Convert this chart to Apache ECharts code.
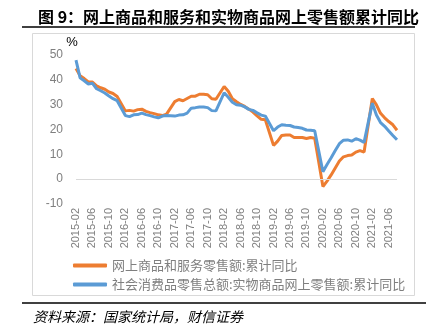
<!DOCTYPE html>
<html>
<head>
<meta charset="utf-8">
<script src="https://cdn.jsdelivr.net/npm/echarts@6/dist/echarts.min.js"></script>
<style>
html,body{margin:0;padding:0;background:#fff;}
#chart{width:441px;height:333px;}
</style>
</head>
<body>
<div id="chart"></div>
<script>
// Months from 2015-02 to 2021-08 (January not published: null)
var categories = [];
(function(){
  for (var y = 2015; y <= 2021; y++) {
    for (var m = 1; m <= 12; m++) {
      if (y === 2015 && m < 2) continue;
      if (y === 2021 && m > 8) break;
      categories.push(y + '-' + (m < 10 ? '0' + m : '' + m));
    }
  }
})();

var seriesNames = ['网上商品和服务零售额:累计同比', '社会消费品零售总额:实物商品网上零售额:累计同比'];

// 网上商品和服务零售额:累计同比 (%)
var onlineTotal = [
  44.6, 41.6, 40.5, 39.2, 39.1, 37.6, 36.8, 36.2, 35.1, 34.5, 33.3,
  null, 27.5, 27.7, 27.4, 28.0, 28.2, 27.3, 26.8, 26.4, 25.9, 25.6, 26.2,
  null, 31.2, 32.1, 31.6, 32.5, 33.4, 33.4, 34.2, 34.2, 34.0, 32.4, 32.2,
  null, 37.3, 35.4, 32.4, 31.2, 30.1, 29.3, 28.2, 27.0, 25.5, 24.1, 23.9,
  null, 13.6, 15.3, 17.6, 17.8, 17.8, 16.8, 16.8, 16.8, 16.4, 16.8, 16.5,
  null, -3.0, -0.8, 1.7, 4.5, 7.3, 9.0, 9.5, 9.7, 10.9, 11.5, 10.9,
  null, 32.5, 29.9, 26.5, 24.7, 23.2, 21.9, 19.7
];

// 社会消费品零售总额:实物商品网上零售额:累计同比 (%)
var onlineGoods = [
  47.9, 40.8, 39.6, 38.3, 38.6, 36.4, 35.6, 34.7, 33.5, 32.4, 31.6,
  null, 25.6, 25.2, 25.9, 26.0, 26.6, 26.0, 25.6, 25.1, 24.7, 25.4, 25.6,
  null, 25.4, 25.8, 25.9, 26.6, 28.6, 28.8, 29.1, 29.1, 28.8, 27.6, 27.5,
  null, 34.8, 33.0, 31.0, 30.0, 29.8, 29.1, 28.1, 27.7, 26.7, 25.8, 25.4,
  null, 19.5, 21.0, 21.9, 21.7, 21.6, 21.0, 20.8, 20.5, 19.8, 19.7, 19.5,
  null, 3.0, 5.9, 8.6, 11.5, 14.3, 15.7, 15.8, 15.3, 16.3, 15.7, 14.8,
  null, 30.6, 25.8, 22.8, 21.3, 19.4, 17.6, 15.9
];

var yTicks = {min: -10, max: 50, interval: 10};

var chart = echarts.init(document.getElementById('chart'), null, {renderer: 'canvas'});
var cjk = '"Noto Sans CJK SC", sans-serif';
var latin = '"Liberation Sans", Arial, sans-serif';

chart.setOption({
  animation: false,
  backgroundColor: '#ffffff',
  title: {
    text: '图 9：网上商品和服务和实物商品网上零售额累计同比',
    left: 33, top: 4,
    textStyle: {fontFamily: cjk, fontSize: 16, fontWeight: 'bold', color: '#000'}
  },
  graphic: [
    {type: 'line', shape: {x1: 22, y1: 27, x2: 415, y2: 27}, style: {stroke: '#000', lineWidth: 1.5}},
    {type: 'rect', shape: {x: 32.5, y: 33.5, width: 382, height: 262}, style: {fill: 'none', stroke: '#d9d9d9', lineWidth: 1}},
    {type: 'line', shape: {x1: 22, y1: 303, x2: 426, y2: 303}, style: {stroke: '#000', lineWidth: 1.5}},
    {type: 'text', left: 33, top: 310, style: {text: '资料来源：国家统计局，财信证券', font: 'italic 14px "Noto Sans CJK SC", sans-serif', fill: '#000'}}
  ],
  legend: {
    orient: 'vertical',
    left: 68, top: 254,
    itemWidth: 34, itemHeight: 4, itemGap: 6,
    icon: 'roundRect',
    textStyle: {fontFamily: cjk, fontSize: 13, color: '#7f7f7f'},
    data: seriesNames
  },
  grid: {left: 76, right: 44, top: 55, bottom: 129, containLabel: false},
  xAxis: {
    type: 'category',
    data: categories,
    boundaryGap: false,
    axisLine: {show: false},
    axisTick: {show: false},
    axisLabel: {interval: 3, rotate: 90, fontSize: 11, fontFamily: latin, color: '#7f7f7f', margin: 4}
  },
  yAxis: {
    type: 'value',
    min: yTicks.min, max: yTicks.max, interval: yTicks.interval,
    name: '%',
    nameLocation: 'end',
    nameGap: 3,
    nameTextStyle: {fontFamily: latin, fontSize: 13, color: '#000', align: 'center', verticalAlign: 'middle', padding: [0, 8, 0, 0]},
    axisLine: {show: false},
    axisTick: {show: false},
    splitLine: {show: false},
    axisLabel: {fontSize: 12, fontFamily: latin, color: '#7f7f7f', margin: 13}
  },
  series: [
    {
      name: seriesNames[0], type: 'line', data: onlineTotal,
      connectNulls: true, showSymbol: false, symbol: 'none',
      lineStyle: {width: 3, color: '#ED7D31'}, itemStyle: {color: '#ED7D31'},
      markLine: {
        silent: true, symbol: 'none', label: {show: false},
        lineStyle: {color: '#d9d9d9', width: 1, type: 'solid'},
        data: [{yAxis: 0}]
      },
      z: 2
    },
    {
      name: seriesNames[1], type: 'line', data: onlineGoods,
      connectNulls: true, showSymbol: false, symbol: 'none',
      lineStyle: {width: 3, color: '#5B9BD5'}, itemStyle: {color: '#5B9BD5'},
      z: 3
    }
  ]
});
</script>
</body>
</html>
